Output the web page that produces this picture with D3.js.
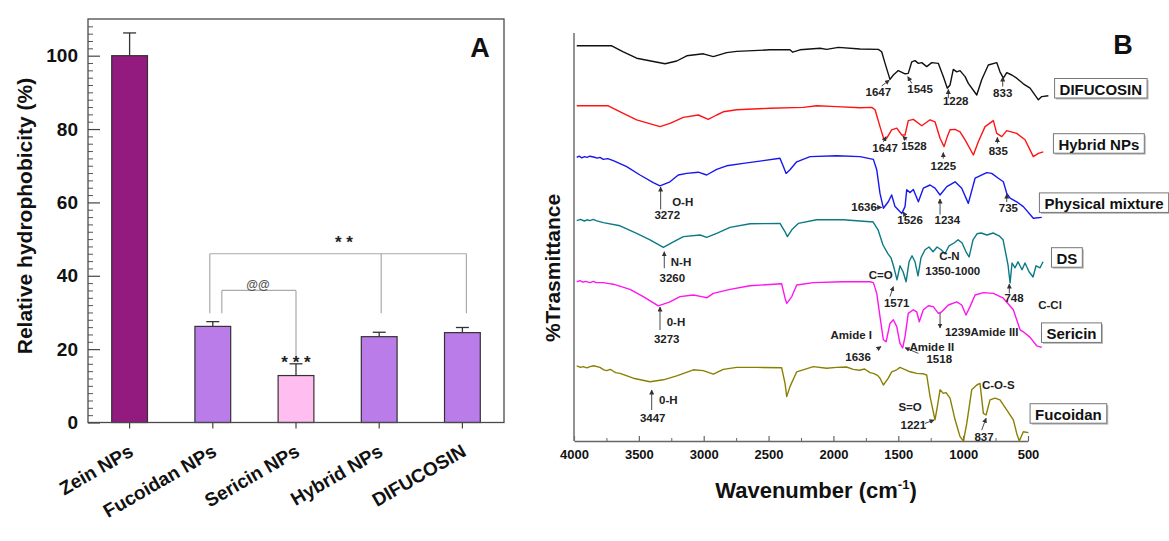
<!DOCTYPE html>
<html><head><meta charset="utf-8">
<script src="https://cdn.jsdelivr.net/npm/d3@7"></script>
<style>
body{margin:0;background:#fff}
svg{display:block;font-family:"Liberation Sans",Arial,sans-serif}
</style>
</head><body>
<svg id="c" width="1169" height="541"></svg>
<script>
// ---------------- Panel A data ----------------
const categories = ["Zein NPs","Fucoidan NPs","Sericin NPs","Hybrid NPs","DIFUCOSIN"];
const hydrophobicity = [100, 26.2, 12.8, 23.4, 24.5];
const errorUpper = [6.2, 1.3, 3.2, 1.2, 1.4];
const yTicksA = [0, 20, 40, 60, 80, 100];

// ---------------- Panel B data (wavenumber, transmittance a.u.) ----------------
const wavenumberTicks = [4000, 3500, 3000, 2500, 2000, 1500, 1000, 500];
const seriesNames = ["DIFUCOSIN","Hybrid NPs","Physical mixture","DS","Sericin","Fucoidan"];
const difucosin = [[3979,98.8],[3709,98.8],[3620,97.3],[3517,95.7],[3298,94.3],[3208,95],[3131,96.3],[3003,96.8],[2926,96.1],[2823,97.1],[2746,97.4],[2489,97.8],[2335,97.8],[2314,97.2],[2258,97.8],[2103,98.2],[2052,97.9],[1962,98.4],[1795,98],[1654,97.9],[1628,97.3],[1602,94.4],[1564,90.4],[1538,91.5],[1500,92.6],[1448,91.8],[1423,91.9],[1396,94.8],[1371,95.1],[1345,94.4],[1319,94.6],[1281,93.6],[1242,94.6],[1191,94.4],[1153,91.1],[1122,88.2],[1101,89],[1076,92.9],[1049,92.3],[1024,92.6],[985,91.1],[960,89.4],[895,86.5],[857,90.3],[806,94],[741,94.6],[716,92.3],[690,90.7],[664,92.1],[625,91.5],[587,90.7],[536,89.3],[484,88.2],[420,85.3],[394,86.1],[343,86.3]];
const hybridNPs = [[3979,83.8],[3736,83.8],[3620,81.9],[3517,80.3],[3337,78.6],[3260,79.4],[3157,80.9],[3042,81.5],[2965,80.4],[2900,81.5],[2849,82.3],[2746,82.8],[2489,83.2],[2232,83.4],[2129,83.8],[1975,83.6],[1795,83.3],[1705,83.4],[1679,82.8],[1641,78.6],[1610,75.3],[1589,75.7],[1551,77.8],[1512,78.2],[1473,76.5],[1448,76.5],[1423,80.1],[1384,80.4],[1319,78.8],[1255,80.3],[1217,79.8],[1178,75.7],[1147,73.6],[1122,76.1],[1101,77.8],[1062,77.9],[1024,77.3],[985,75.3],[921,71.5],[883,74.8],[831,78.6],[767,80.1],[741,76.9],[702,76.1],[664,77.6],[587,76.9],[523,75.3],[459,71.1],[420,71.9],[382,72.3]];
const physicalMixture = [[3979,70.9],[3960,71.2],[3940,70.8],[3920,71.1],[3900,70.9],[3877,71.2],[3850,71.0],[3820,70.7],[3800,70.9],[3774,70.4],[3740,70.6],[3697,70.1],[3594,68.6],[3491,66.5],[3389,64.6],[3337,63.8],[3260,64.8],[3196,66.5],[3131,66.9],[3042,67.2],[2977,66.5],[2900,67.9],[2823,68.8],[2695,69.4],[2540,70.1],[2412,70.7],[2386,68.6],[2365,66.9],[2335,67.8],[2283,69.8],[2180,71.1],[1975,71.3],[1795,71.1],[1692,70.4],[1666,67.8],[1641,61.9],[1615,58.2],[1577,59.8],[1551,61.5],[1525,58.6],[1473,56.9],[1448,58.6],[1435,62.8],[1409,62.1],[1384,62.9],[1345,59.8],[1307,63.2],[1255,64],[1217,63.2],[1178,61.5],[1126,63.6],[1062,64.8],[1011,63.2],[960,59.4],[908,65.7],[818,67.1],[780,66.9],[729,65.7],[690,64.8],[664,61.9],[638,60.7],[587,59.8],[536,58.6],[459,55.7],[394,55.9]];
const ds = [[3979,55.1],[3950,55.4],[3920,55.0],[3900,55.3],[3877,55.1],[3850,55.4],[3830,55.1],[3774,54.6],[3645,53.8],[3517,51.9],[3414,50.3],[3311,48.4],[3234,49.8],[3157,51.1],[3028,51.5],[2977,50.9],[2900,51.9],[2797,53.4],[2643,54.3],[2412,54.4],[2373,52.3],[2355,51.1],[2321,52.8],[2271,54.4],[2129,55.3],[1924,55.3],[1718,54.8],[1695,54.8],[1656,52.8],[1618,49],[1579,46.8],[1556,45.8],[1533,43.3],[1510,40.3],[1487,43.8],[1463,42.3],[1440,39.8],[1417,44.8],[1394,46.3],[1371,44.8],[1348,41.3],[1325,45.8],[1294,47.8],[1263,48.5],[1232,47.3],[1201,48.5],[1170,47.8],[1140,46.8],[1109,48.8],[1070,49.5],[1039,50.3],[1008,49.5],[978,47.3],[954,46],[924,50.3],[893,51.8],[862,52],[816,51.5],[769,52],[723,51.3],[692,50.3],[669,46.5],[654,44],[638,39.5],[623,44.5],[600,43.3],[577,44.8],[546,42.8],[523,44.5],[492,42.3],[461,41],[438,43.8],[407,43.3],[384,44.8]];
const sericin = [[3979,39.8],[3955,40.1],[3930,39.7],[3910,39.9],[3877,39.6],[3850,39.9],[3830,39.6],[3774,39.6],[3740,39.4],[3697,39.2],[3568,37.9],[3466,36.1],[3350,33.8],[3260,34.8],[3183,36.1],[3080,36.5],[3015,36.1],[2977,35.8],[2926,36.9],[2797,37.9],[2643,38.8],[2399,39.3],[2373,35.7],[2360,34.4],[2321,36.1],[2283,39],[2155,39.6],[1924,39.8],[1718,39.8],[1692,39.6],[1666,36.9],[1641,31.1],[1615,25.3],[1594,24.8],[1564,29.4],[1538,30.3],[1512,28.6],[1487,24.4],[1466,23.3],[1448,26.1],[1423,31.9],[1384,32.8],[1358,32.3],[1338,29.8],[1307,32.8],[1268,33.8],[1230,33.6],[1191,31.9],[1165,32.3],[1114,34],[1049,34.8],[1011,34],[978,31.5],[947,33.6],[908,36.5],[844,37.1],[767,36.9],[690,35.7],[613,32.8],[561,27.8],[536,27.3],[484,25.9],[433,23.8],[394,23.4]];
const fucoidan = [[3979,18.8],[3950,18.4],[3930,18.6],[3900,18.3],[3877,18.6],[3850,18.8],[3800,18.4],[3770,17.8],[3748,17.6],[3720,17.9],[3700,17.5],[3680,17.1],[3645,16.9],[3543,15.7],[3414,14.8],[3311,15.3],[3208,16.3],[3080,17.8],[3003,17.6],[2926,16.7],[2849,17.9],[2746,18.4],[2591,18.4],[2399,18.3],[2373,14.4],[2360,11.1],[2335,13.6],[2283,17.3],[2155,18.6],[2052,18.2],[1975,18.4],[1900,18.5],[1847,17.9],[1800,17.7],[1760,18.0],[1718,17.1],[1692,16.9],[1660,16.4],[1641,15.7],[1615,14],[1577,15.7],[1551,17.3],[1512,17.8],[1487,18.4],[1409,17.3],[1358,16.9],[1307,16.8],[1281,16.5],[1255,11.1],[1217,5.3],[1199,8.6],[1178,12.8],[1153,11.9],[1132,12.1],[1101,10.7],[1062,5.3],[1024,1.1],[998,0],[972,4.4],[934,12.8],[895,14],[870,14.4],[844,6.9],[823,6.5],[793,10.3],[754,10.7],[716,10.3],[664,7.8],[613,5.3],[587,1.9],[567,0],[536,2.3],[497,2.1]];
const spectra = [difucosin, hybridNPs, physicalMixture, ds, sericin, fucoidan];

// annotation labels: text, anchor (wavenumber, value), optional arrow [w1,v1,w2,v2]
const annotations = [
 {t:"1647", w:1654, v:87.3, a:[1628,88.75,1569,90.25]},
 {t:"1545", w:1332, v:87.9, a:[1396,89.4,1427,91.1]},
 {t:"1228", w:1057, v:85.1, a:[1114,85.7,1114,87.9]},
 {t:"833",  w:695,  v:86.9, a:[695,88.6,695,91]},
 {t:"1647", w:1602, v:73.2, a:[1615,74.8,1594,76.1]},
 {t:"1528", w:1379, v:73.75, a:[1435,75.25,1466,76.25]},
 {t:"1225", w:1153, v:68.75, a:[1153,70.6,1153,72.1]},
 {t:"835",  w:729,  v:72.6, a:[736,74.4,736,75.9]},
 {t:"O-H",  w:3162, v:59.8},
 {t:"3272", w:3281, v:56.5, a:[3332,57.9,3332,63.5]},
 {t:"1636", w:1764, v:58.6, a:[1679,58.4,1628,58.4]},
 {t:"1526", w:1409, v:55.25, a:[1448,56.5,1464,57.25]},
 {t:"1234", w:1122, v:55.25, a:[1178,56.6,1178,60.5]},
 {t:"735",  w:651,  v:58.2, a:[664,59.75,664,61.75]},
 {t:"N-H",  w:3175, v:44.8},
 {t:"3260", w:3242, v:40.7, a:[3304,43.2,3304,47.3]},
 {t:"C=O",  w:1635, v:41.5},
 {t:"1571", w:1512, v:34.4, a:[1564,36.1,1538,38.6]},
 {t:"C-N",  w:1106, v:46.25},
 {t:"1350-1000", w:1080, v:42.6},
 {t:"748",  w:608,  v:35.7, a:[644,36.9,644,39.25]},
 {t:"C-Cl", w:330,  v:34},
 {t:"0-H",  w:3214, v:29.8},
 {t:"3273", w:3285, v:25.4, a:[3337,27.75,3337,33.5]},
 {t:"Amide I", w:1702, v:26.5, anchor:"end"},
 {t:"1636", w:1810, v:21, a:[1666,22.9,1633,23.6]},
 {t:"Amide II", w:1242, v:23.6},
 {t:"1518", w:1184, v:20.4, a:[1345,21.9,1448,23.3]},
 {t:"1239Amide III", w:1140, v:27.3, anchor:"start", a:[1178,32,1178,28.25]},
 {t:"0-H",  w:3273, v:10.25},
 {t:"3447", w:3393, v:5.7, a:[3401,7.75,3401,12.75]},
 {t:"S=O",  w:1409, v:8.6},
 {t:"1221", w:1384, v:4, a:[1294,4.4,1224,5.25]},
 {t:"C-O-S", w:729, v:14},
 {t:"837",  w:839,  v:1.1, a:[857,2.75,823,5.7]}
];
// series label boxes: left edge (wavenumber) and centre (value)
const boxPos = [[295,88],[304,74.2],[412,59.4],[319,45.7],[396,26.9],[484,6.7]];

// ================= drawing =================
const svg = d3.select("#c");
const defs = svg.append("defs");
defs.append("marker").attr("id","arr").attr("markerUnits","userSpaceOnUse")
  .attr("markerWidth",5).attr("markerHeight",5).attr("refX",4.5).attr("refY",2.5)
  .attr("orient","auto")
  .append("path").attr("d","M0,0L5,2.5L0,5z").attr("fill","#333");

// ---------- Panel A ----------
const xA = d3.scaleBand().domain(categories).range([88,504]).paddingInner(0.57).paddingOuter(0.285);
const yA = d3.scaleLinear().domain([0,110]).range([422.5,19]);
const barFill = ["#931a7f","#b97ce9","#ffbdf0","#b97ce9","#b97ce9"];

const gA = svg.append("g");
const minorA = d3.range(2,110,2).filter(d => d % 20 !== 0);
const gMin = gA.append("g").attr("transform","translate(88,0)")
  .call(d3.axisLeft(yA).tickValues(minorA).tickSize(-5).tickFormat(""));
gMin.select(".domain").remove();
gMin.selectAll("line").attr("stroke","#555").attr("stroke-width",1);
const gyA = gA.append("g").attr("transform","translate(88,0)")
  .call(d3.axisLeft(yA).tickValues(yTicksA).tickSize(-12).tickPadding(10).tickFormat(d3.format("d")));
gyA.select(".domain").remove();
gyA.selectAll("line").attr("stroke","#444").attr("stroke-width",1.2);
gyA.selectAll("text").attr("font-size",19).attr("font-weight","bold").attr("fill","#111")
  .attr("font-family","'Liberation Sans',Arial,sans-serif");

const gxA = gA.append("g").attr("transform","translate(0,422.5)")
  .call(d3.axisBottom(xA).tickSize(6).tickSizeOuter(0).tickFormat(""));
gxA.select(".domain").remove();
gxA.selectAll("line").attr("stroke","#444").attr("stroke-width",1.2);

gA.selectAll("rect.bar").data(categories).join("rect").attr("class","bar")
  .attr("x", d => xA(d)).attr("width", xA.bandwidth())
  .attr("y", (d,i) => yA(hydrophobicity[i]))
  .attr("height", (d,i) => yA(0) - yA(hydrophobicity[i]))
  .attr("fill", (d,i) => barFill[i]).attr("stroke","#333").attr("stroke-width",1.2);

categories.forEach((c,i) => {
  const cx = xA(c) + xA.bandwidth()/2;
  const top = yA(hydrophobicity[i] + errorUpper[i]);
  gA.append("line").attr("x1",cx).attr("x2",cx).attr("y1",yA(hydrophobicity[i])).attr("y2",top)
    .attr("stroke","#333").attr("stroke-width",1.3);
  gA.append("line").attr("x1",cx-6.5).attr("x2",cx+6.5).attr("y1",top).attr("y2",top)
    .attr("stroke","#333").attr("stroke-width",1.3);
});

gA.append("rect").attr("x",88).attr("y",19).attr("width",416).attr("height",403.5)
  .attr("fill","none").attr("stroke","#4a4a4a").attr("stroke-width",1.3);

const cxA = (c, dx) => xA(c) + xA.bandwidth()/2 + dx;
const brk = gA.append("g").attr("stroke","#aaa").attr("stroke-width",1.2).attr("fill","none");
const b1 = [["Fucoidan NPs",-3,29.8],["Hybrid NPs",2,29.8],["DIFUCOSIN",4,29.8]];
brk.append("line").attr("x1",cxA(b1[0][0],b1[0][1])).attr("x2",cxA(b1[2][0],b1[2][1]))
  .attr("y1",yA(46)).attr("y2",yA(46));
b1.forEach(l => brk.append("line").attr("x1",cxA(l[0],l[1])).attr("x2",cxA(l[0],l[1]))
  .attr("y1",yA(46)).attr("y2",yA(l[2])));
const b2 = [["Fucoidan NPs",9,29.8],["Sericin NPs",0,17]];
brk.append("line").attr("x1",cxA(b2[0][0],b2[0][1])).attr("x2",cxA(b2[1][0],b2[1][1]))
  .attr("y1",yA(36)).attr("y2",yA(36));
b2.forEach(l => brk.append("line").attr("x1",cxA(l[0],l[1])).attr("x2",cxA(l[0],l[1]))
  .attr("y1",yA(36)).attr("y2",yA(l[2])));

gA.append("text").attr("x",344).attr("y",yA(47.5)).attr("text-anchor","middle")
  .attr("font-size",17).attr("font-weight","bold").attr("fill","#222").text("* *");
gA.append("text").attr("x",cxA("Sericin NPs",0)).attr("y",yA(14.8)).attr("text-anchor","middle")
  .attr("font-size",17).attr("font-weight","bold").attr("fill","#222").text("* * *");
gA.append("text").attr("x",258).attr("y",yA(36.4)).attr("text-anchor","middle")
  .attr("font-size",12).attr("font-weight","bold").attr("fill","#555").text("@@");

categories.forEach(c => {
  gA.append("text")
    .attr("transform", `translate(${cxA(c,5)},455) rotate(-30)`)
    .attr("text-anchor","end").attr("font-size",19).attr("font-weight","bold").attr("fill","#111")
    .text(c);
});
gA.append("text").attr("transform","translate(24,216) rotate(-90)")
  .attr("text-anchor","middle").attr("dominant-baseline","central")
  .attr("font-size",21).attr("font-weight","bold").attr("fill","#111")
  .text("Relative hydrophobicity (%)");
gA.append("text").attr("x",480).attr("y",57).attr("text-anchor","middle")
  .attr("font-size",27).attr("font-weight","bold").attr("fill","#111").text("A");

// ---------- Panel B ----------
const xB = d3.scaleLinear().domain([4000,500]).range([574,1028]);
const yB = d3.scaleLinear().domain([0,102]).range([441,33]);
const lineColors = ["#111111","#ff1414","#1717ee","#0b7a84","#ff14ee","#8a8000"];
const gB = svg.append("g");

const gxB = gB.append("g").attr("transform","translate(0,441)")
  .call(d3.axisBottom(xB).tickValues(wavenumberTicks).tickFormat(d3.format("d"))
    .tickSize(-5).tickSizeOuter(0).tickPadding(9));
gxB.select(".domain").attr("stroke","#666").attr("stroke-width",1.4);
gxB.selectAll("line").attr("stroke","#666").attr("stroke-width",1.2);
gxB.selectAll("text").attr("font-size",13).attr("font-weight","bold").attr("fill","#111")
  .attr("font-family","'Liberation Sans',Arial,sans-serif");
const minorB = d3.range(3750,500,-500);
const gmB = gB.append("g").attr("transform","translate(0,441)")
  .call(d3.axisBottom(xB).tickValues(minorB).tickSize(-3).tickSizeOuter(0).tickFormat(""));
gmB.select(".domain").remove();
gmB.selectAll("line").attr("stroke","#666").attr("stroke-width",1);

gB.append("line").attr("x1",xB(4000)).attr("x2",xB(4000)).attr("y1",yB(0)).attr("y2",yB(102))
  .attr("stroke","#777").attr("stroke-width",1.6);

const line = d3.line().x(d => xB(d[0])).y(d => yB(d[1]));
spectra.forEach((s,i) => {
  gB.append("path").attr("d", line(s)).attr("fill","none")
    .attr("stroke", lineColors[i]).attr("stroke-width",1.4).attr("stroke-linejoin","round");
});

annotations.forEach(a => {
  if (a.a) {
    gB.append("line").attr("x1",xB(a.a[0])).attr("y1",yB(a.a[1]))
      .attr("x2",xB(a.a[2])).attr("y2",yB(a.a[3]))
      .attr("stroke","#333").attr("stroke-width",0.9).attr("marker-end","url(#arr)");
  }
  gB.append("text").attr("x",xB(a.w)).attr("y",yB(a.v))
    .attr("text-anchor", a.anchor || "middle").attr("dominant-baseline","central")
    .attr("font-size",11.5).attr("font-weight","bold").attr("fill","#222").text(a.t);
});

seriesNames.forEach((n,i) => {
  const x0 = xB(boxPos[i][0]), yc = yB(boxPos[i][1]);
  const g = gB.append("g");
  const t = g.append("text").attr("x",x0+5).attr("y",yc).attr("dominant-baseline","central")
    .attr("font-size",15).attr("font-weight","bold").attr("fill","#111").text(n);
  const w = t.node().getComputedTextLength();
  g.insert("rect","text").attr("x",x0+1.5).attr("y",yc-9).attr("width",w+10).attr("height",19.5)
    .attr("fill","#bbb");
  g.insert("rect","text").attr("x",x0).attr("y",yc-10.5).attr("width",w+10).attr("height",19.5)
    .attr("fill","#fff").attr("stroke","#777").attr("stroke-width",1);
});

const xt = gB.append("text").attr("x",xB(2250)+15).attr("y",498).attr("text-anchor","middle")
  .attr("font-size",22).attr("font-weight","bold").attr("fill","#111");
xt.append("tspan").text("Wavenumber (cm");
xt.append("tspan").attr("font-size",13).attr("dy",-9).text("-1");
xt.append("tspan").attr("dy",9).text(")");
gB.append("text").attr("transform","translate(552,268) rotate(-90)")
  .attr("text-anchor","middle").attr("dominant-baseline","central")
  .attr("font-size",21).attr("font-weight","bold").attr("fill","#111").text("%Trasmittance");
gB.append("text").attr("x",1123).attr("y",54).attr("text-anchor","middle")
  .attr("font-size",27).attr("font-weight","bold").attr("fill","#111").text("B");
</script>
</body></html>
